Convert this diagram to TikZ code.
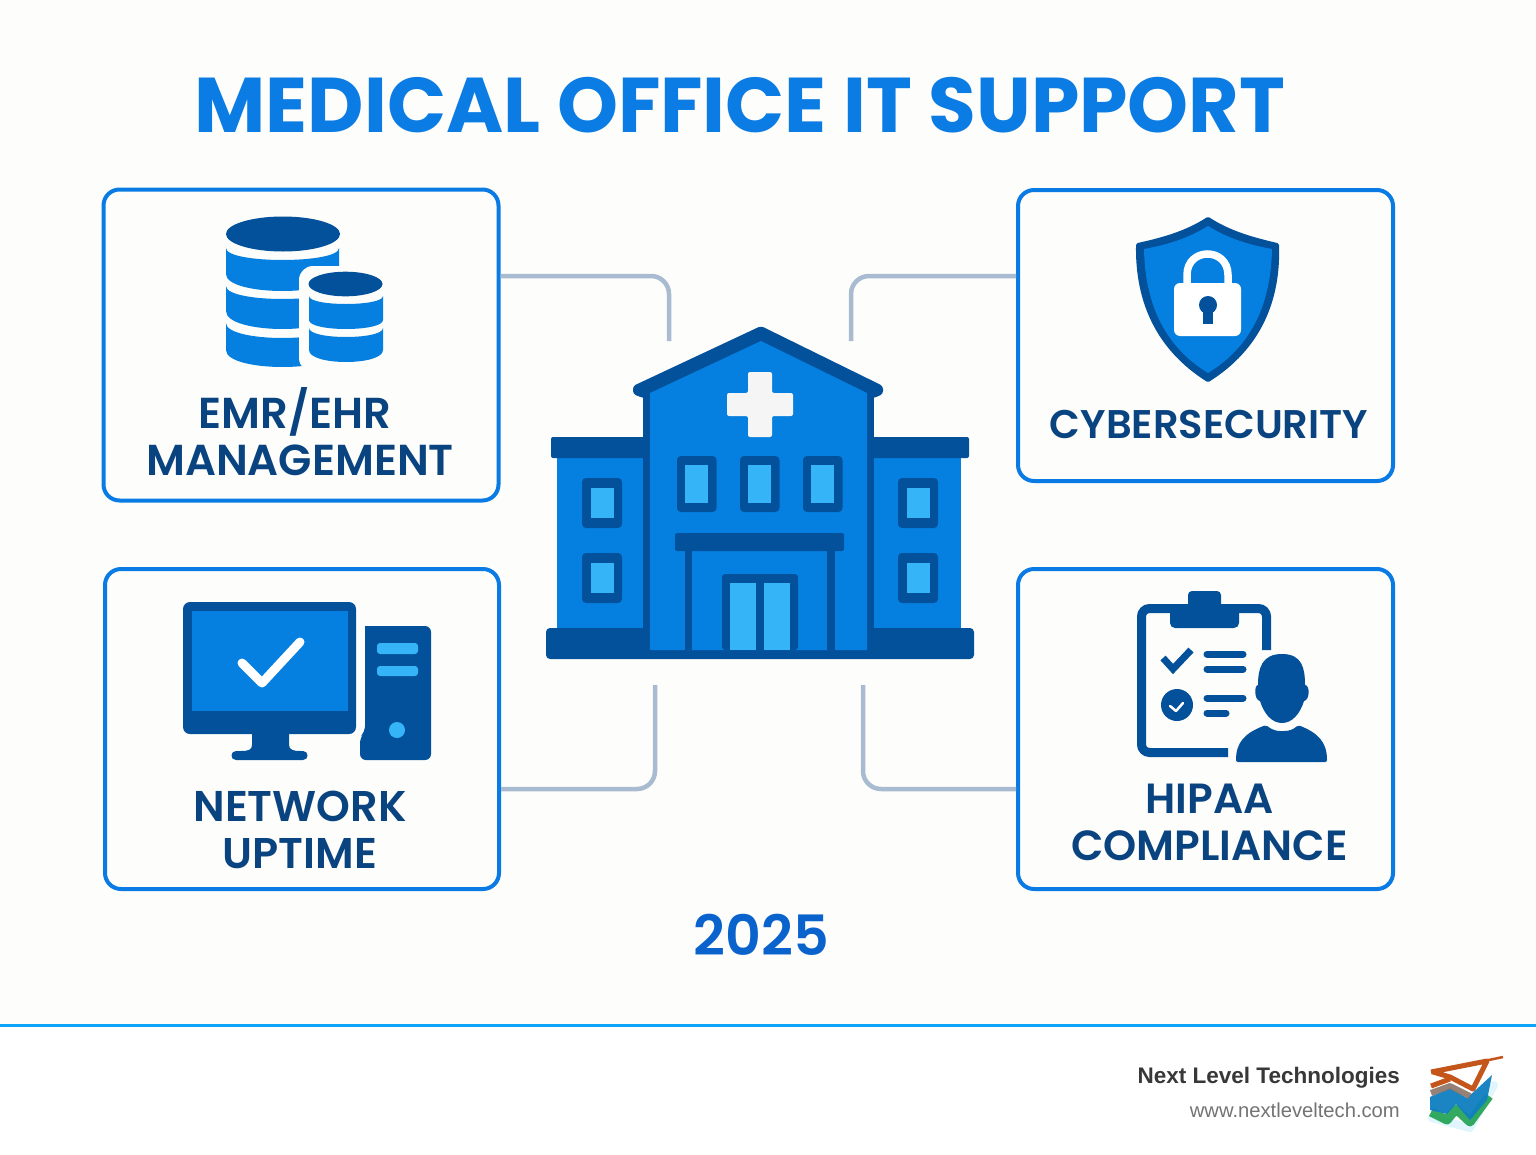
\documentclass[tikz,border=0pt]{standalone}
\usepackage{fontspec}
\setmainfont{Liberation Sans}
\newfontfamily\headfont{Poppins}[UprightFont=* SemiBold,BoldFont=* Bold]
\usetikzlibrary{positioning}
\definecolor{paperbg}{HTML}{FDFDFB}
\definecolor{titleblue}{HTML}{0A7CE4}
\definecolor{yearblue}{HTML}{0A62CC}
\definecolor{cardblue}{HTML}{0A7BE4}
\definecolor{navytext}{HTML}{0A4480}
\definecolor{darkblue}{HTML}{03509B}
\definecolor{midblue}{HTML}{0580E0}
\definecolor{lightblue}{HTML}{35B5F8}
\definecolor{linkgrey}{HTML}{A9BBD0}
\definecolor{rulecyan}{HTML}{0AA5F8}
\definecolor{logoorange}{HTML}{C4561C}
\definecolor{logobrown}{HTML}{8A7468}
\definecolor{logoblue}{HTML}{0F7FC0}
\definecolor{logogreen}{HTML}{1FA050}
\tikzset{
  card_box/.style={draw=cardblue,line width=4pt,rounded corners=16pt,fill=paperbg,inner sep=0pt},
  card_text/.style={font=\headfont\fontsize{#1}{47}\selectfont,text=navytext,align=center,inner sep=0pt},
  link_line/.style={draw=linkgrey,line width=4.5pt,rounded corners=18pt},
  dark_fill/.style={fill=darkblue},
  mid_fill/.style={fill=midblue},
  light_fill/.style={fill=lightblue},
  check_line/.style={draw,line cap=round,line join=round}
}
\def\dbband#1#2#3#4#5#6{
  \fill[mid_fill] ({#1-#2},#3) .. controls ({#1-#2},{#3+#4*1.333}) and ({#1+#2},{#3+#4*1.333}) .. ({#1+#2},#3)
    -- ({#1+#2},#5) .. controls ({#1+#2},{#5+#6*1.333}) and ({#1-#2},{#5+#6*1.333}) .. ({#1-#2},#5) -- cycle;
}
\begin{document}
\begin{tikzpicture}[x=1pt,y=-1pt]
  \useasboundingbox (0,0) rectangle (1536,1154);
  \fill[paperbg] (0,0) rectangle (1536,1026);
  \fill[white] (0,1026) rectangle (1536,1154);
  \coordinate (rule_l) at (0,1025.5);
  \coordinate (rule_r) at (1536,1025.5);
  \draw[rulecyan,line width=3pt] (rule_l) -- (rule_r);

  \node[font=\headfont\bfseries\fontsize{77.6}{90}\selectfont,text=titleblue,inner sep=0pt] (title) at (740,105) {MEDICAL OFFICE IT SUPPORT};
  \node[font=\headfont\fontsize{55.5}{60}\selectfont,text=yearblue,inner sep=0pt] (year) at (761.5,935) {2025};

  \node[card_box,minimum width=395pt,minimum height=311pt] (emr) at (301,345) {};
  \node[card_box,minimum width=375pt,minimum height=291pt] (cyber) at (1205.5,335.5) {};
  \node[card_box,minimum width=394pt,minimum height=320pt] (network) at (302,729) {};
  \node[card_box,minimum width=375pt,minimum height=320pt] (hipaa) at (1205.5,729) {};

  \node[card_text=43.3] (emr_label) at (300,432) {\hspace*{-10pt}EMR/EHR\\MANAGEMENT};
  \node[card_text=40] (cyber_label) at (1209,424.5) {CYBERSECURITY};
  \node[card_text=43] (network_label) at (300,830) {NETWORK\\UPTIME};
  \node[card_text=42.2] (hipaa_label) at (1209.5,822) {HIPAA\\COMPLIANCE};

  \coordinate (hub_tl) at (669,341);
  \coordinate (hub_tr) at (851,341);
  \coordinate (hub_bl) at (655,685);
  \coordinate (hub_br) at (863,685);
  \coordinate (emr_out) at (emr.east |- 0,276);
  \coordinate (cyber_out) at (cyber.west |- 0,276);
  \coordinate (network_out) at (network.east |- 0,789);
  \coordinate (hipaa_out) at (hipaa.west |- 0,789);
  \draw[link_line] (emr_out) -| (hub_tl);
  \draw[link_line] (cyber_out) -| (hub_tr);
  \draw[link_line] (network_out) -| (hub_bl);
  \draw[link_line] (hipaa_out) -| (hub_br);

  \begin{scope}
    \fill[mid_fill] (557,450) rectangle (961,640);
    \fill[dark_fill,rounded corners=2pt] (551,437) rectangle (969,458);
    \fill[dark_fill,rounded corners=4pt] (546,628) rectangle (974,659);
    \fill[dark_fill] (643,390) rectangle (874,659);
    \fill[dark_fill,rounded corners=3pt] (761,326) -- (883,386) -- (883,394) -- (874,398) -- (643,398) -- (633,394) -- (633,386) -- cycle;
    \fill[mid_fill] (761,341) -- (867,393) -- (867,650) -- (650,650) -- (650,393) -- cycle;
    \fill[fill=white!96!black,rounded corners=2pt] (748,372) -- (772,372) -- (772,393) -- (793,393) -- (793,416) -- (772,416) -- (772,437) -- (748,437) -- (748,416) -- (727,416) -- (727,393) -- (748,393) -- cycle;
    \foreach \wx in {677,740,803}
    {
      \fill[dark_fill,rounded corners=4pt] (\wx,456) rectangle ++(39.5,56);
      \fill[light_fill] ({\wx+8},465) rectangle ++(23,38);
    }
    \foreach \wx in {582,898}
      \foreach \wy in {478,553}
      {
        \fill[dark_fill,rounded corners=4pt] (\wx,\wy) rectangle ++(40,50);
        \fill[light_fill] ({\wx+8.5},{\wy+10}) rectangle ++(23,30);
      }
    \fill[dark_fill,rounded corners=2pt] (675,533) rectangle (844,551);
    \fill[dark_fill] (685,551) rectangle (692,650);
    \fill[dark_fill] (827,551) rectangle (835,650);
    \fill[dark_fill,rounded corners=3pt] (722,650) -- (722,574) -- (798,574) -- (798,650) -- cycle;
    \fill[light_fill] (730,583) rectangle (756,650);
    \fill[light_fill] (764,583) rectangle (790,650);
  \end{scope}

  \begin{scope}
    \dbband{282.5}{56.5}{248}{12}{274}{17}
    \dbband{282.5}{56.5}{286}{13}{311}{18}
    \dbband{282.5}{56.5}{323}{15}{350}{17}
    \fill[dark_fill] (283,234) ellipse (57pt and 17.5pt);
    \fill[paperbg,rounded corners=14pt] (299,372) -- (299,266) -- (395,266) -- (395,372) -- cycle;
    \dbband{346}{37}{296}{8}{320}{9}
    \dbband{346}{37}{328}{9}{350}{12}
    \fill[dark_fill] (345.5,284) ellipse (37pt and 12.3pt);
  \end{scope}

  \begin{scope}
    \fill[dark_fill,rounded corners=7pt] (183,602) rectangle (356,734);
    \fill[mid_fill] (192,611) rectangle (348,711);
    \draw[check_line,white,line width=9pt] (242,663) -- (262,683) -- (300,642);
    \fill[dark_fill] (252,730) -- (289,730) -- (289,745) .. controls (289,750) and (294,751) .. (300,751) -- (303,751) .. controls (309,751) and (309,760) .. (303,760) -- (236,760) .. controls (230,760) and (230,751) .. (236,751) -- (241,751) .. controls (248,751) and (252,750) .. (252,745) -- cycle;
    \fill[dark_fill,rounded corners=6pt] (365,732) [sharp corners] -- (365,626) [rounded corners=6pt] -- (431,626) -- (431,760) -- (360,760) -- (360,737) -- cycle;
    \fill[light_fill,rounded corners=3pt] (377,643) rectangle (418,654);
    \fill[light_fill,rounded corners=3pt] (377,666) rectangle (418,676);
    \fill[light_fill] (397,730) circle (8pt);
  \end{scope}

  \begin{scope}
    \fill[dark_fill,draw=darkblue,line width=4pt,line join=round] (1208,219) .. controls (1185,234) and (1160,240) .. (1138,245) .. controls (1137,300) and (1157,348) .. (1208,380) .. controls (1259,348) and (1279,300) .. (1277,245) .. controls (1256,240) and (1231,234) .. (1208,219) -- cycle;
    \fill[mid_fill] (1208,226) .. controls (1187,239) and (1166,245) .. (1144,249) .. controls (1145,300) and (1162,345) .. (1208,373) .. controls (1254,345) and (1271,300) .. (1272,249) .. controls (1250,245) and (1229,239) .. (1208,226) -- cycle;
    \draw[white,line width=7.5pt] (1187,286) -- (1187,275) .. controls (1187,247) and (1228,247) .. (1228,275) -- (1228,286);
    \fill[white,rounded corners=6pt] (1174,283) rectangle (1241,336);
    \fill[dark_fill] (1208,305) circle (9pt);
    \fill[dark_fill] (1203,305) rectangle (1213,324);
  \end{scope}

  \begin{scope}
    \draw[draw=darkblue,line width=9pt,rounded corners=8pt] (1228,752.5) -- (1141.5,752.5) -- (1141.5,608.5) -- (1266.5,608.5) -- (1266.5,650);
    \fill[dark_fill,rounded corners=4pt] (1188,591) rectangle (1221,612);
    \fill[dark_fill,rounded corners=5pt] (1170,605) rectangle (1239,628);
    \draw[check_line,draw=darkblue,line width=7pt,line cap=butt,line join=miter] (1163,658) -- (1173,669) -- (1191,650);
    \foreach \ly/\lx in {654/1246,669/1246,698/1246,713/1229}
      \draw[check_line,draw=darkblue,line width=7pt] (1207,\ly) -- ({\lx-3},\ly);
    \fill[dark_fill] (1177,705) circle (16pt);
    \draw[check_line,white,line width=2.5pt] (1170,706) -- (1176,711) -- (1183,703);
    \fill[dark_fill] (1282,654) .. controls (1262,654) and (1258,668) .. (1258,685) .. controls (1254,685) and (1254,700) .. (1260,701) .. controls (1264,714) and (1272,723) .. (1282,723) .. controls (1292,723) and (1300,714) .. (1304,701) .. controls (1310,700) and (1310,685) .. (1305,685) .. controls (1305,668) and (1302,654) .. (1282,654) -- cycle;
    \fill[dark_fill,rounded corners=2pt] (1236,762) .. controls (1236,742) and (1245,733) .. (1266,725) .. controls (1272,730) and (1277,731) .. (1282,731) .. controls (1288,731) and (1293,730) .. (1298,725) .. controls (1318,733) and (1327,742) .. (1327,762) -- cycle;
  \end{scope}

  \node[anchor=east,font=\bfseries\fontsize{22.5}{28}\selectfont,text=black!78,inner sep=0pt] (brand) at (1400,1078) {Next Level Technologies};
  \node[anchor=east,font=\fontsize{20.2}{24}\selectfont,text=black!55,inner sep=0pt] (site) at (1400,1110) {www.nextleveltech.com};

  \begin{scope}[line join=round]
    \draw[cyan!12,line width=8pt,line cap=round] (1432,1118) -- (1470,1128) -- (1494,1085);
    \draw[logogreen,line width=9pt,opacity=.9] (1431,1112) -- (1447,1120) -- (1456,1109) -- (1470,1122) -- (1489,1096);
    \fill[logoblue,opacity=.95] (1430,1097) -- (1450,1088) -- (1467,1098) -- (1492,1075) -- (1487,1100) -- (1470,1120) -- (1456,1104) -- (1447,1114) -- (1430,1110) -- cycle;
    \draw[logobrown,line width=6pt,opacity=.9] (1431,1093) -- (1450,1086) -- (1470,1096);
    \draw[logoorange,line width=5pt] (1431,1072) -- (1487,1061) -- (1473,1089) -- (1450,1077) -- (1433,1072);
    \draw[logoorange,line width=5pt] (1431,1086) -- (1450,1079);
    \draw[logoorange,line width=2.5pt] (1484,1061) -- (1503,1057);
  \end{scope}
\end{tikzpicture}
\end{document}
